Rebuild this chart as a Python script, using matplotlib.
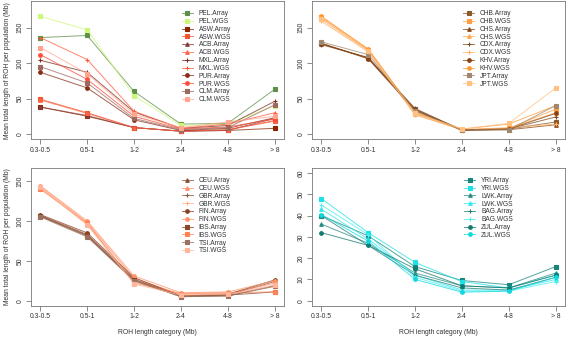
import matplotlib
matplotlib.use("Agg")
import matplotlib.pyplot as plt
from matplotlib.colors import to_rgba

plt.rcParams['font.family'] = ['Liberation Sans', 'DejaVu Sans']

categories = ["0.3-0.5", "0.5-1", "1-2", "2-4", "4-8", "> 8"]

# ---- AMR panel ----
amr_labels = ["PEL.Array", "PEL.WGS", "ASW.Array", "ASW.WGS", "ACB.Array", "ACB.WGS",
              "MXL.Array", "MXL.WGS", "PUR.Array", "PUR.WGS", "CLM.Array", "CLM.WGS"]
amr_values = [
    [136, 139, 60, 14, 15, 63],
    [166, 147, 54, 12, 14, 40],
    [38, 25, 9, 4, 5, 8],
    [49, 30, 9, 4, 6, 19],
    [38, 26, 9, 4, 5, 22],
    [48, 29, 9, 4, 6, 18],
    [104, 87, 31, 8, 12, 46],
    [136, 105, 32, 8, 14, 30],
    [87, 65, 20, 5, 8, 23],
    [112, 77, 25, 7, 10, 21],
    [95, 72, 22, 6, 9, 41],
    [122, 85, 28, 9, 17, 25],
]
amr_colors = ["#5E8E48", "#CCF77A", "#8B2500", "#F0552E", "#8B3A3A", "#FF6347",
              "#7A2E1E", "#FF5A3C", "#8B2A12", "#FF4A35", "#9A6A60", "#FFA590"]
amr_markers = ["s", "s", "s", "s", "^", "^", "+", "+", "o", "o", "s", "s"]

# ---- EAS panel ----
eas_labels = ["CHB.Array", "CHB.WGS", "CHS.Array", "CHS.WGS", "CDX.Array", "CDX.WGS",
              "KHV.Array", "KHV.WGS", "JPT.Array", "JPT.WGS"]
eas_values = [
    [128, 107, 35, 6, 7, 17],
    [165, 119, 30, 6, 8, 35],
    [127, 107, 34, 5, 6, 13],
    [163, 118, 28, 6, 8, 30],
    [126, 108, 36, 5, 7, 24],
    [159, 116, 27, 6, 9, 14],
    [128, 106, 33, 6, 7, 29],
    [166, 120, 30, 7, 14, 40],
    [130, 112, 32, 6, 6, 40],
    [162, 117, 29, 7, 15, 65],
]
eas_colors = ["#8B5A2B", "#FF9F40", "#8B4513", "#FFA54F", "#7A4A20", "#FFB060",
              "#8B4010", "#FF9933", "#A08870", "#FFC080"]
eas_markers = ["s", "s", "^", "^", "+", "+", "o", "o", "s", "s"]

# ---- EUR panel ----
eur_labels = ["CEU.Array", "CEU.WGS", "GBR.Array", "GBR.WGS", "FIN.Array", "FIN.WGS",
              "IBS.Array", "IBS.WGS", "TSI.Array", "TSI.WGS"]
eur_values = [
    [107, 83, 27, 6, 7, 24],
    [143, 98, 28, 8, 9, 22],
    [106, 81, 25, 5, 6, 19],
    [141, 96, 24, 6, 8, 18],
    [108, 85, 29, 6, 8, 26],
    [144, 100, 31, 10, 11, 25],
    [106, 82, 26, 6, 7, 11],
    [140, 97, 22, 9, 10, 11],
    [105, 80, 25, 5, 6, 18],
    [142, 95, 21, 7, 8, 20],
]
eur_colors = ["#8B4C39", "#FF8C69", "#8B5A3C", "#FFB08A", "#8B3E1F", "#FF9466",
              "#8B4726", "#FF8255", "#9A7060", "#FFB59A"]
eur_markers = ["^", "^", "+", "+", "o", "o", "s", "s", "s", "s"]

# ---- AFR panel ----
afr_labels = ["YRI.Array", "YRI.WGS", "LWK.Array", "LWK.WGS", "BAG.Array", "BAG.WGS",
              "ZUL.Array", "ZUL.WGS"]
afr_values = [
    [40, 30.5, 16, 9.5, 7.5, 16],
    [48, 32, 18, 9, 6, 12],
    [36, 27, 13, 7, 6, 13],
    [43, 29, 12, 5, 5, 10],
    [40, 26, 12, 6, 5, 11],
    [45, 31, 11, 4.5, 4.5, 9],
    [32, 26, 15, 7, 6, 12],
    [40.5, 28, 10, 4, 4.5, 11],
]
afr_colors = ["#17857A", "#1FE0E6", "#2A8C84", "#33E8EE", "#1F7F78", "#4CEEF0",
              "#0F7A70", "#10D8E0"]
afr_markers = ["s", "s", "^", "^", "+", "+", "o", "o"]

W, H = 567, 338
fig = plt.figure(figsize=(W / 100, H / 100), dpi=100)

def px_axes(x0, y0, x1, y1):
    return fig.add_axes([x0 / W, 1 - y1 / H, (x1 - x0) / W, (y1 - y0) / H])

BOX = "#777777"
TXT = "#333333"

def panel(rect, labels, values, colors, markers, ymax, yticks, leg_xy, xlabel, ylabel):
    ax = px_axes(*rect)
    xs = list(range(1, len(categories) + 1))
    for lab, vals, col, mk in zip(labels, values, colors, markers):
        ms = 3.2 if mk in ("+",) else 2.6
        ax.plot(xs, vals, color=to_rgba(col, 0.75), lw=0.7, marker=mk, ms=ms,
                mfc=col, mec=col, mew=0.8, label=lab)
    pad = 0.04
    ax.set_xlim(1 - pad * 5, 6 + pad * 5)
    ax.set_ylim(-pad * ymax, ymax * (1 + pad))
    ax.set_xticks(xs)
    ax.set_xticklabels(categories)
    ax.set_yticks(yticks)
    ax.set_yticklabels([str(t) for t in yticks], rotation=90, va="center")
    ax.tick_params(length=3.5, width=0.6, color=BOX, labelsize=4.9, labelcolor=TXT, pad=2)
    for s in ax.spines.values():
        s.set_color(BOX)
        s.set_linewidth(0.6)
    if xlabel:
        ax.set_xlabel("ROH length category (Mb)", fontsize=4.9, color=TXT, labelpad=6)
    if ylabel:
        ax.set_ylabel("Mean total length of ROH per population (Mb)", fontsize=4.9,
                      color=TXT, labelpad=4)
    leg = ax.legend(loc="upper left", bbox_to_anchor=(leg_xy[0] / W, 1 - leg_xy[1] / H),
                    bbox_transform=fig.transFigure, frameon=False, fontsize=4.8,
                    handlelength=1.65, handletextpad=0.9, labelspacing=0.12,
                    borderpad=0, borderaxespad=0, markerscale=1.0)
    for t in leg.get_texts():
        t.set_color(TXT)
    return ax

panel((31, 1.3, 284, 139.1), amr_labels, amr_values, amr_colors, amr_markers,
      180, [0, 50, 100, 150], (181.7, 10.3), False, True)
panel((312, 1.3, 565, 139.1), eas_labels, eas_values, eas_colors, eas_markers,
      180, [0, 50, 100, 150], (463, 10.3), False, False)
panel((31, 168, 284, 305.8), eur_labels, eur_values, eur_colors, eur_markers,
      160, [0, 50, 100, 150], (181.7, 177.2), True, True)
panel((312, 168, 565, 305.8), afr_labels, afr_values, afr_colors, afr_markers,
      60, [0, 10, 20, 30, 40, 50, 60], (464, 177.2), True, False)

fig.savefig("out.png", dpi=100)
